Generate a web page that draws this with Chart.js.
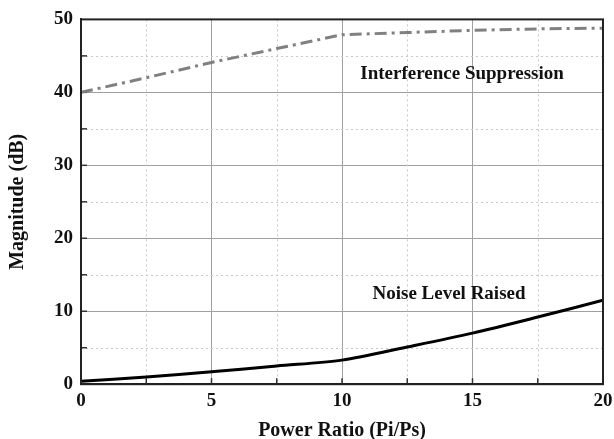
<!DOCTYPE html>
<html>
<head>
<meta charset="utf-8">
<script src="https://cdn.jsdelivr.net/npm/chart.js@4"></script>
<style>
  html, body { margin: 0; padding: 0; background: #fff; }
  #wrap { width: 614px; height: 439px; }
</style>
</head>
<body>
<div id="wrap"><canvas id="myChart" width="614" height="439"></canvas></div>
<script>
(function(){
    'use strict';

    // power ratio samples (Pi/Ps)
    const powerRatio = [0, 2.5, 5, 7.5, 10, 12.5, 15, 17.5, 20];
    const interference = [40, 42, 44.1, 46, 47.9, 48.2, 48.5, 48.7, 48.8];
    const noiseLevel = [0.4, 1.0, 1.7, 2.5, 3.3, 5.1, 7.0, 9.2, 11.5];

    const xTicks = [0, 5, 10, 15, 20];
    const yTicks = [0, 10, 20, 30, 40, 50];

    // text labels placed in data coordinates
    const notes = [
        { text: 'Interference Suppression', x: 14.6, y: 42.5 },
        { text: 'Noise Level Raised', x: 14.1, y: 12.3 }
    ];

    const serif = '"Liberation Serif", "Times New Roman", serif';

    // dotted minor grid, inward minor ticks, frame and notes
    const decorations = {
        id: 'decorations',
        beforeDatasetsDraw(chart) {
            const { ctx, chartArea: a, scales } = chart;
            ctx.save();
            ctx.strokeStyle = '#c8c8c8';
            ctx.lineWidth = 1;
            ctx.setLineDash([2, 3]);
            for (let v = 2.5; v < 20; v += 5) {
                const px = Math.round(scales.x.getPixelForValue(v)) + 0.5;
                ctx.beginPath(); ctx.moveTo(px, a.top); ctx.lineTo(px, a.bottom); ctx.stroke();
            }
            for (let v = 5; v < 50; v += 10) {
                const py = Math.round(scales.y.getPixelForValue(v)) + 0.5;
                ctx.beginPath(); ctx.moveTo(a.left, py); ctx.lineTo(a.right, py); ctx.stroke();
            }
            ctx.setLineDash([]);
            ctx.strokeStyle = '#333';
            ctx.lineWidth = 1.5;
            for (let v = 2.5; v < 20; v += 2.5) {
                const px = scales.x.getPixelForValue(v);
                ctx.beginPath(); ctx.moveTo(px, a.bottom); ctx.lineTo(px, a.bottom - 6); ctx.stroke();
            }
            for (let v = 5; v < 50; v += 5) {
                const py = scales.y.getPixelForValue(v);
                ctx.beginPath(); ctx.moveTo(a.left, py); ctx.lineTo(a.left + 6, py); ctx.stroke();
            }
            ctx.restore();
        },
        afterDatasetsDraw(chart) {
            const { ctx, chartArea: a, scales } = chart;
            ctx.save();
            ctx.strokeStyle = '#222';
            ctx.lineWidth = 2;
            ctx.strokeRect(a.left, a.top, a.right - a.left, a.bottom - a.top);
            ctx.fillStyle = '#111';
            ctx.font = 'bold 19px ' + serif;
            ctx.textAlign = 'center';
            ctx.textBaseline = 'middle';
            notes.forEach(function(n){
                ctx.fillText(n.text, scales.x.getPixelForValue(n.x), scales.y.getPixelForValue(n.y));
            });
            ctx.restore();
        }
    };

    new Chart(document.querySelector('#myChart'), {
        type: 'line',
        data: {
            datasets: [
                {
                    label: 'Interference Suppression',
                    data: powerRatio.map((x, i) => ({ x: x, y: interference[i] })),
                    borderColor: '#808080',
                    borderWidth: 3,
                    borderDash: [12, 5, 3, 5],
                    pointRadius: 0,
                    fill: false,
                    tension: 0
                },
                {
                    label: 'Noise Level Raised',
                    data: powerRatio.map((x, i) => ({ x: x, y: noiseLevel[i] })),
                    borderColor: '#000',
                    borderWidth: 3,
                    pointRadius: 0,
                    fill: false,
                    tension: 0.3
                }
            ]
        },
        options: {
            responsive: false,
            animation: false,
            layout: { padding: { top: 6, right: 0, left: 4, bottom: -2 } },
            plugins: {
                legend: { display: false },
                tooltip: { enabled: false }
            },
            scales: {
                x: {
                    type: 'linear',
                    min: 0,
                    max: 20,
                    afterBuildTicks: s => { s.ticks = xTicks.map(v => ({ value: v })); },
                    afterFit: s => { s.paddingRight = 11; },
                    grid: { color: '#a0a0a0', lineWidth: 1, drawTicks: false },
                    border: { color: '#222', width: 2 },
                    ticks: {
                        color: '#111',
                        padding: 5,
                        font: { family: serif, size: 19, weight: 'bold' }
                    },
                    title: {
                        display: true,
                        text: 'Power Ratio (Pi/Ps)',
                        color: '#111',
                        padding: { top: 4, bottom: 0 },
                        font: { family: serif, size: 20, weight: 'bold', lineHeight: 1 }
                    }
                },
                y: {
                    type: 'linear',
                    min: 0,
                    max: 50,
                    afterBuildTicks: s => { s.ticks = yTicks.map(v => ({ value: v })); },
                    grid: { color: '#a0a0a0', lineWidth: 1, drawTicks: false },
                    border: { color: '#222', width: 2 },
                    ticks: {
                        color: '#111',
                        padding: 8,
                        font: { family: serif, size: 19, weight: 'bold' }
                    },
                    title: {
                        display: true,
                        text: 'Magnitude (dB)',
                        color: '#111',
                        padding: { top: 2, bottom: 16 },
                        font: { family: serif, size: 20, weight: 'bold' }
                    }
                }
            }
        },
        plugins: [decorations]
    });
})();
</script>
</body>
</html>
